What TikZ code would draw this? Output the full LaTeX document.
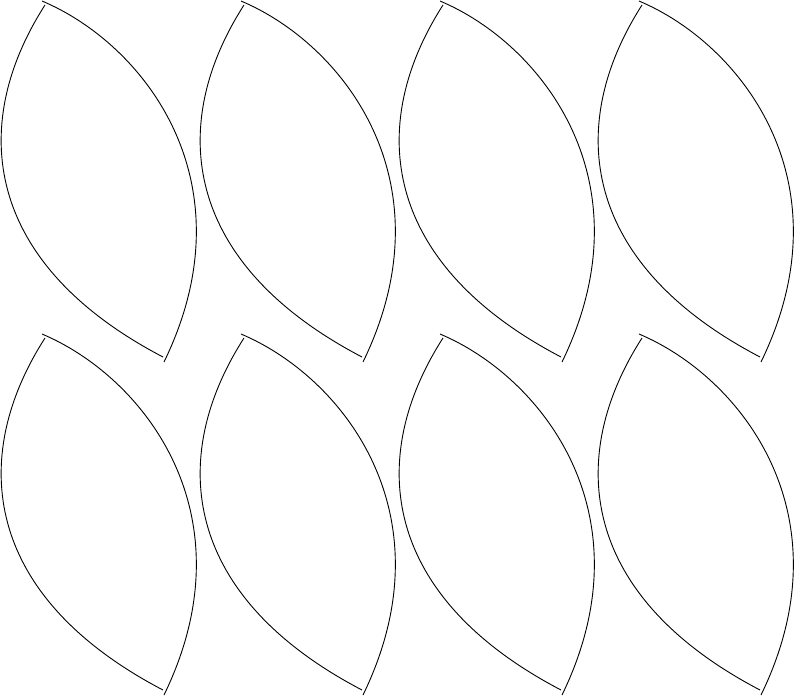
\documentclass[tikz,border=0pt]{standalone}
\begin{document}
\begin{tikzpicture}[x=1pt,y=-1pt,leafline/.style={line width=0.9pt,black}]
                        % 余白を固定
                        \useasboundingbox (0,0) rectangle (800,697);

                        % 葉の形を 2 行 4 列に並べる
                        \foreach \col in {0,...,3} {
                            \foreach \row in {0,1} {
                                \begin{scope}[shift={(199*\col,333*\row)}]
                                    % 左側の弧
                                    \draw[leafline] (45,5) .. controls (-33.3,127.1) and (-14.2,264.4) .. (163,357);
                                    % 右側の弧
                                    \draw[leafline] (42,1) .. controls (144.5,44.2) and (251.6,182.2) .. (164,362);
                                \end{scope}
                            }
                        }
                    \end{tikzpicture}
\end{document}
